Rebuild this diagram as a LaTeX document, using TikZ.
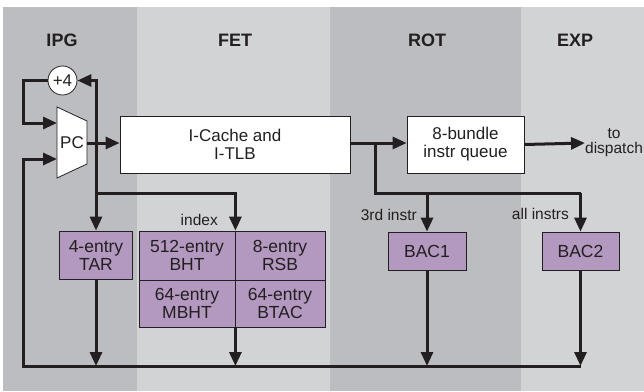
\documentclass[tikz,border=0pt]{standalone}
\usepackage{fontspec}
\setmainfont{Liberation Sans}
\usetikzlibrary{arrows.meta}
\definecolor{ink}{HTML}{231F20}
\definecolor{banddark}{HTML}{BCBDC1}
\definecolor{bandlight}{HTML}{D2D3D5}
\definecolor{purp}{HTML}{B398BF}
\newcommand\figfs[2]{\fontsize{#1}{#2}\selectfont}
\begin{document}
\begin{tikzpicture}[x=1pt,y=-1pt,
  wire/.style={line width=3pt, draw=ink, line join=miter},
  arr/.style={wire, -{Triangle[length=14pt,width=12pt]}},
  wbox/.style={draw=ink, line width=0.8pt, fill=white, inner sep=0pt, text=ink, align=center, font=\figfs{17}{18}},
  pbox/.style={draw=ink, line width=0.8pt, fill=purp, inner sep=0pt, text=ink, align=center, font=\figfs{17.5}{18}},
  head/.style={text=ink, font=\figfs{18}{18}\bfseries},
  small/.style={text=ink, font=\figfs{15.5}{15}, inner sep=1pt}
]
\useasboundingbox (0,0) rectangle (644,391);
\fill[white] (0,0) rectangle (644,391);
% bands
\fill[banddark] (3,7) rectangle (137,391);
\fill[bandlight] (137,7) rectangle (330,391);
\fill[banddark] (330,7) rectangle (521,391);
\fill[bandlight] (521,7) rectangle (644,391);
% headers
\node[head] (hipg) at (62,40) {IPG};
\node[head] (hfet) at (235,40) {FET};
\node[head] (hrot) at (427,40) {ROT};
\node[head] (hexp) at (575,40) {EXP};
% +4 circle
\node[wbox, circle, minimum size=29pt] (plus4) at (62.5,80.5) {+4};
% PC trapezoid
\draw[ink, line width=0.8pt, fill=white] (57,107) -- (87,121) -- (87,164) -- (57,178) -- cycle;
\node[text=ink, font=\figfs{17}{18}] (pc) at (72,142.5) {PC};
\coordinate (pcin1) at (57,123);
\coordinate (pcin2) at (57,159);
\coordinate (pcout) at (87,143);
% boxes
\node[wbox, minimum width=230pt, minimum height=57pt] (icache) at (235,144.5) {I-Cache and\\I-TLB};
\node[wbox, minimum width=117pt, minimum height=57pt] (queue) at (465.5,144.5) {8-bundle\\instr queue};
\node[pbox, minimum width=73pt, minimum height=48pt] (tar) at (96,255) {4-entry\\TAR};
\node[pbox, minimum width=96pt, minimum height=49pt] (bht) at (187,255.5) {512-entry\\BHT};
\node[pbox, minimum width=90pt, minimum height=49pt] (rsb) at (280,255.5) {8-entry\\RSB};
\node[pbox, minimum width=96pt, minimum height=47pt] (mbht) at (187,303.5) {64-entry\\MBHT};
\node[pbox, minimum width=90pt, minimum height=47pt] (btac) at (280,303.5) {64-entry\\BTAC};
\node[pbox, minimum width=78pt, minimum height=38pt] (bac1) at (427,251) {BAC1};
\node[pbox, minimum width=77pt, minimum height=38pt] (bac2) at (580.5,251) {BAC2};
% small labels
\node[small, anchor=east] (lindex) at (219,220) {index};
\node[small, anchor=east] (l3rd) at (418,215) {3rd instr};
\node[small, anchor=east] (lall) at (570,214) {all instrs};
\node[small, align=center] (ldisp) at (614,142.5) {to\\dispatch};
% junction coordinates
\coordinate (j1) at (96,143);
\coordinate (j2) at (96,193);
\coordinate (j3) at (375,143);
\coordinate (j4) at (375,193);
\coordinate (bl) at (23,366);
\coordinate (br) at (580.5,366);
\coordinate (loopa) at (23,123);
\coordinate (disp) at (585,143);
% connectors
\draw[arr] (pcout) -- (pcout -| icache.west);
\draw[arr] (j1) |- (plus4.east);
\draw[arr] (j1) -- (j1 |- tar.north);
\draw[arr] (j2) -| (bht.north east);
\draw[arr] (plus4.west) -| (loopa) -- (pcin1);
\draw[arr] (br) -- (bl) -- (bl |- pcin2) -- (pcin2);
\draw[arr] (tar.south) -- (tar.south |- bl);
\draw[arr] (mbht.south east) -- (mbht.south east |- bl);
\draw[arr] (bac1.south) -- (bac1.south |- bl);
\draw[arr] (bac2.south) -- (bac2.south |- bl);
\draw[arr] (j3 -| icache.east) -- (j3 -| queue.west);
\draw[wire] (j3) -- (j4) -- (j4 -| bac2.north);
\draw[arr] (j4 -| bac1.north) -- (bac1.north);
\draw[arr] (j4 -| bac2.north) -- (bac2.north);
\draw[arr] (queue.east) -- (disp);
\end{tikzpicture}
\end{document}
